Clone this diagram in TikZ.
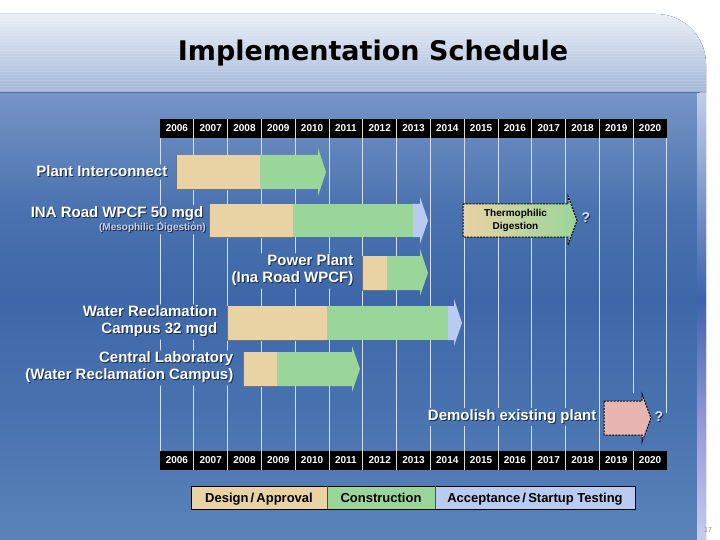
\documentclass[tikz,border=0pt]{standalone}
\usepackage{fontspec}
\setmainfont{Liberation Sans}
\newfontfamily\titlefont{DejaVu Sans}
\definecolor{tanc}{HTML}{E9D3A4}
\definecolor{greenc}{HTML}{9AD59A}
\definecolor{bluec}{HTML}{BACBF2}
\definecolor{pinkc}{HTML}{E9B5B1}
\definecolor{gridc}{HTML}{D5DFF0}
\definecolor{subc}{HTML}{C9D1E2}
\definecolor{qc}{HTML}{DCE2EE}
\definecolor{shadowc}{HTML}{1A2A48}
\definecolor{hdtop}{HTML}{EAEFF6}
\definecolor{hdbot}{HTML}{A3B6D8}
\definecolor{hdline}{HTML}{4E6EA6}
\definecolor{bodya}{HTML}{7694C6}
\definecolor{bodyb}{HTML}{4A72AF}
\definecolor{bodyc}{HTML}{3D67A8}
\definecolor{bodyd}{HTML}{4A74B0}
\definecolor{bodye}{HTML}{5B83BA}
\definecolor{stripa}{HTML}{BFCFE8}
\definecolor{stripb}{HTML}{3E62AE}
\definecolor{stripc}{HTML}{9C9CDA}
\definecolor{stripd}{HTML}{C8CCEC}
\pgfdeclareverticalshading{bodyshade}{100bp}{color(0bp)=(bodye); color(25bp)=(bodye); color(38bp)=(bodyd); color(52bp)=(bodyc); color(62bp)=(bodyb); color(75bp)=(bodya); color(100bp)=(bodya)}
\pgfdeclareverticalshading{stripshade}{100bp}{color(0bp)=(stripd); color(25bp)=(stripd); color(37bp)=(stripc); color(52bp)=(stripb); color(75bp)=(stripa); color(100bp)=(stripa)}
\newcommand{\lblfont}{\fontsize{15}{17}\selectfont\bfseries}
\newcommand{\subfont}{\fontsize{10}{11}\selectfont\bfseries}
\newcommand{\yrfont}{\fontsize{10}{11}\selectfont\bfseries}
\newcommand{\legfont}{\fontsize{13}{15}\selectfont\bfseries}
\newcommand{\boxfont}{\fontsize{10}{12.5}\selectfont\bfseries}
\newcommand{\qfont}{\fontsize{14}{16}\selectfont\bfseries}
\newcommand{\shd}[1]{\makebox[0pt][l]{\hspace{1pt}\raisebox{-1pt}{\color{shadowc}#1}}#1}

\begin{document}
\begin{tikzpicture}[x=1pt,y=-1pt,
    rowlabel/.style={font=\lblfont, text=white, align=right, anchor=east, inner sep=1.5pt},
    sublabel/.style={font=\subfont, text=subc, anchor=east, inner sep=1pt},
    yearlabel/.style={font=\yrfont, text=white, inner sep=0pt},
    qmark/.style={font=\qfont, text=qc, inner sep=1pt},
    boxtext/.style={font=\boxfont, text=black, align=center, inner sep=0pt},
    legendtext/.style={font=\legfont, text=black, inner sep=0pt, anchor=base},
    design/.style={fill=tanc},
    build/.style={fill=greenc},
    accept/.style={fill=bluec},
    rim/.style={draw=black!55, line width=0.7pt},
    future/.style={draw=black, line width=1pt, dash pattern=on 2pt off 1.2pt},
    grid/.style={draw=gridc, line width=1pt},
    yearbar/.style={fill=black},
    yearsep/.style={draw=black!15, line width=0.8pt}]

    % slide
    \useasboundingbox (0,0) rectangle (720,540);
    \fill[white] (0,0) rectangle (720,540);
    \shade[shading=bodyshade] (0,93) rectangle (706,540);
    \shade[shading=stripshade] (697,93) rectangle (706,540);
    \fill[top color=hdtop, bottom color=hdbot] (0,93) -- (0,14) -- (656,14) arc[start angle=-90, end angle=0, radius=50] -- (706,93) -- cycle;
    \begin{scope}
        \clip (0,93) -- (0,14) -- (656,14) arc[start angle=-90, end angle=0, radius=50] -- (706,93) -- cycle;
        \foreach \y in {20,23,...,89}
            \draw[white, opacity=.12, line width=.6pt] (0,\y) -- (706,\y);
    \end{scope}
    \draw[hdline, line width=1pt] (0,93) -- (700,93);
    \node (title) at (373,53) {\titlefont\fontsize{27}{30}\selectfont\bfseries Implementation Schedule};

    % row labels
    \node[rowlabel] (lplant) at (169,172) {\shd{Plant Interconnect}};
    \node[rowlabel] (lina) at (205,214) {\shd{INA Road WPCF 50 mgd}};
    \node[sublabel] (lmeso) at (207,228) {\shd{(Mesophilic Digestion)}};
    \node[rowlabel] (lpower) at (355,271) {\shd{Power Plant}\\\shd{(Ina Road WPCF)}};
    \node[rowlabel] (lwater) at (219,322) {\shd{Water Reclamation}\\\shd{Campus 32 mgd}};
    \node[rowlabel] (llab) at (235,368) {\shd{Central Laboratory}\\\shd{(Water Reclamation Campus)}};
    \node[rowlabel] (ldemo) at (598,417) {\shd{Demolish existing plant}};

    % year grid
    \begin{scope}[even odd rule]
        \clip (0,0) rectangle (720,540)
            (lplant.south west) rectangle (lplant.north east)
            (lina.south west) rectangle (lina.north east)
            (lmeso.south west) rectangle (lmeso.north east)
            (lpower.south west) rectangle (lpower.north east)
            (lwater.south west) rectangle (lwater.north east)
            (llab.south west) rectangle (llab.north east)
            (ldemo.south west) rectangle (ldemo.north east);
        \foreach \i in {0,...,13}
            \draw[grid] (160+33.8*\i,138) -- (160+33.8*\i,451);
        \draw[grid] (633.2,138) -- (633.2,393);
        \draw[grid] (666.5,138) -- (666.5,413);
    \end{scope}
    \fill[yearbar] (160,119) rectangle (667,138);
    \fill[yearbar] (160,451) rectangle (667,470);
    \foreach \i in {1,...,14} {
        \draw[yearsep] (160+33.8*\i,119) -- (160+33.8*\i,138);
        \draw[yearsep] (160+33.8*\i,451) -- (160+33.8*\i,470);
    }
    \foreach \yr [count=\i from 0] in {2006,...,2020} {
        \node[yearlabel] (yt\yr) at (176.9+33.8*\i,128.5) {\yr};
        \node[yearlabel] (yb\yr) at (176.9+33.8*\i,460.5) {\yr};
    }

    % plant interconnect
    \fill[design] (176,155) rectangle (260,189);
    \draw[rim] (176,155) |- (260,189);
    \fill[build] (260,155) -- (318,155) -- (318,148) -- (326,172) -- (318,196) -- (318,189) -- (260,189) -- cycle;

    % ina road
    \fill[design] (209,204) rectangle (293,237);
    \draw[rim] (209,204) |- (293,237);
    \fill[build] (293,204) rectangle (413,237);
    \fill[accept] (413,204) -- (420,204) -- (420,197) -- (428,220.5) -- (420,244) -- (420,237) -- (413,237) -- cycle;
    \path[future, left color=tanc, right color=greenc] (463,204) -- (568,204) -- (568,196) -- (577,220.5) -- (568,245) -- (568,237) -- (463,237) -- cycle;
    \node[boxtext] (thermo) at (515.5,220.5) {Thermophilic\\Digestion};
    \node[qmark] (qthermo) at (586,218) {\shd{?}};

    % power plant
    \fill[design] (362,256) rectangle (387,290);
    \draw[rim] (362,256) |- (387,290);
    \fill[build] (387,256) -- (420,256) -- (420,249) -- (428,273) -- (420,296) -- (420,290) -- (387,290) -- cycle;

    % water reclamation campus
    \fill[design] (227,306) rectangle (327,340);
    \draw[rim] (227,306) |- (327,340);
    \fill[build] (327,306) rectangle (448,340);
    \fill[accept] (448,306) -- (454,306) -- (454,299) -- (462,323) -- (454,346) -- (454,340) -- (448,340) -- cycle;

    % central laboratory
    \fill[design] (243,352) rectangle (277,386);
    \draw[rim] (243,352) |- (277,386);
    \fill[build] (277,352) -- (352,352) -- (352,346) -- (360,369) -- (352,392) -- (352,386) -- (277,386) -- cycle;

    % demolish
    \path[future, fill=pinkc] (604,401) -- (642,401) -- (642,394) -- (651,418) -- (642,442) -- (642,435) -- (604,435) -- cycle;
    \node[qmark] (qdemo) at (659,417) {\shd{?}};

    % legend
    \fill[design] (191,486) rectangle (327,509);
    \fill[build] (327,486) rectangle (435,509);
    \fill[accept] (435,486) rectangle (635,509);
    \draw[black, line width=1pt] (191,486) rectangle (635,509);
    \draw[black!70, line width=.6pt] (327,486) -- (327,509) (435,486) -- (435,509);
    \node[legendtext] (ldesign) at (259,502) {Design\,/\,Approval};
    \node[legendtext] (lbuild) at (381,502) {Construction};
    \node[legendtext] (laccept) at (535,502) {Acceptance\,/\,Startup Testing};

    \node[font=\fontsize{7}{8}\selectfont, text=black!45] (pageno) at (708,530) {17};
\end{tikzpicture}
\end{document}
